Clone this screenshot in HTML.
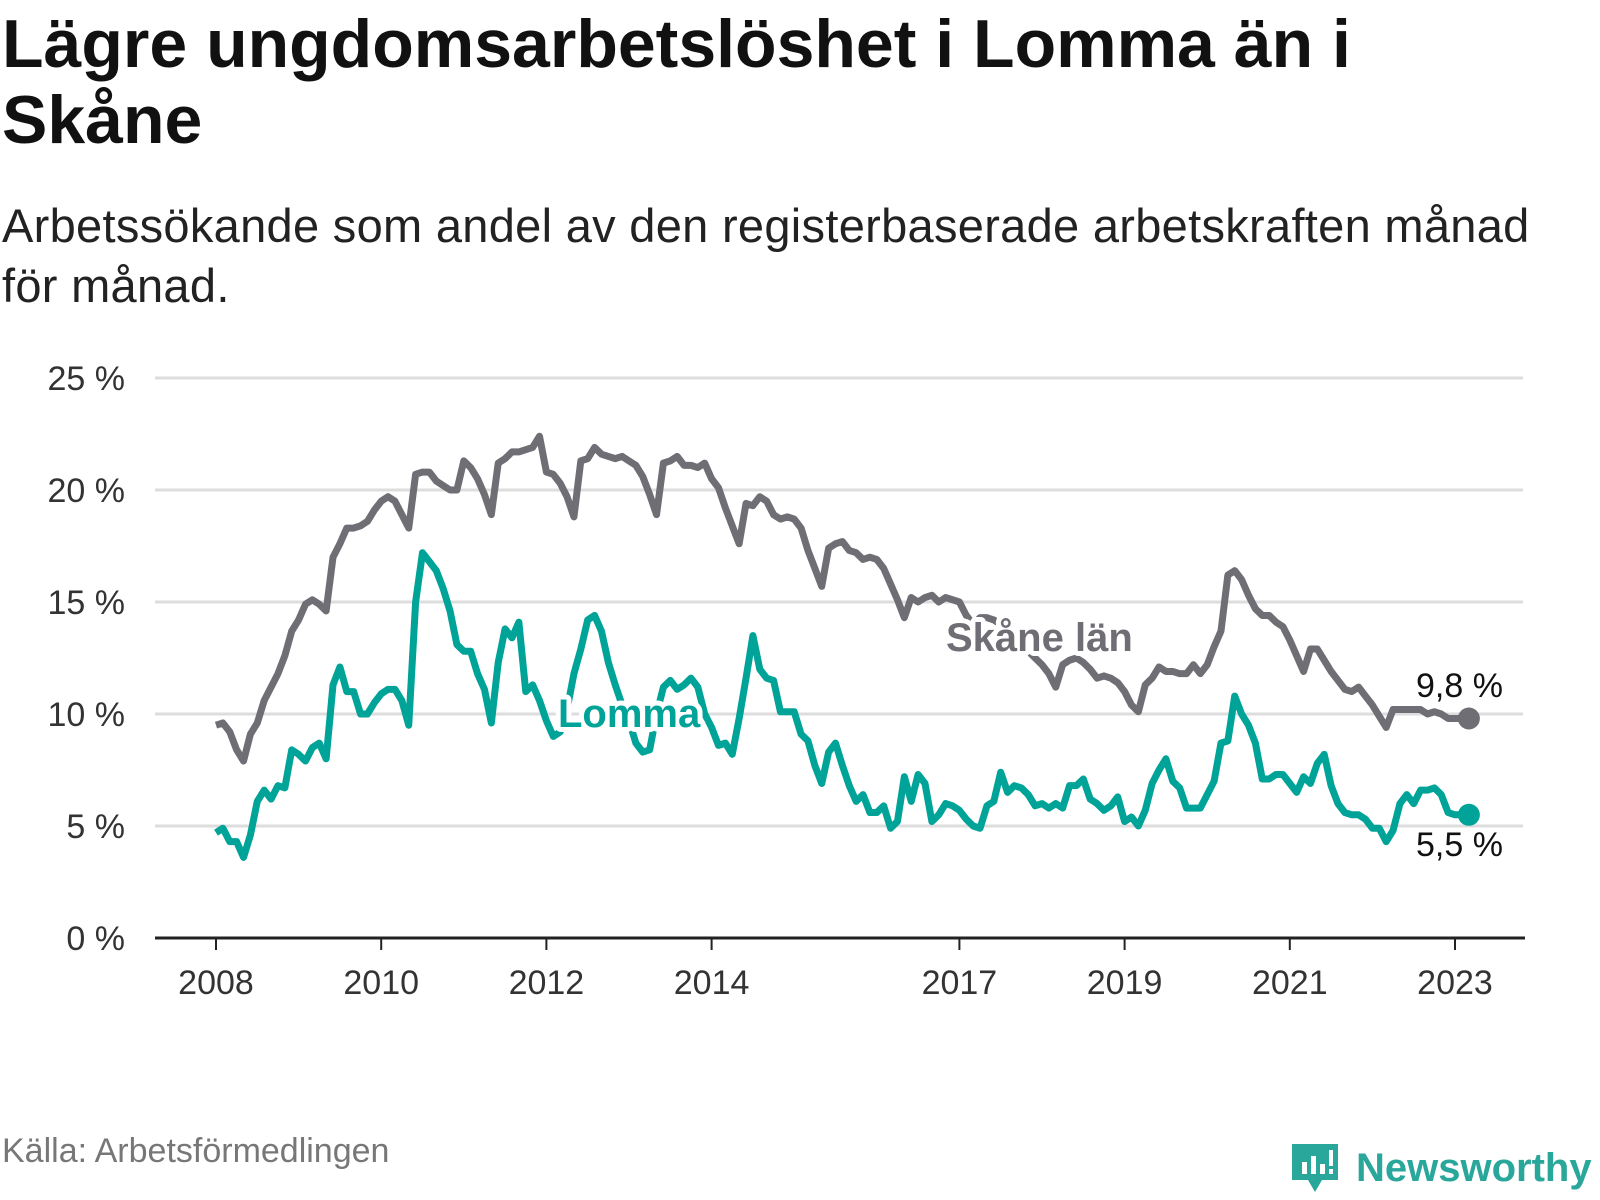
<!DOCTYPE html>
<html><head><meta charset="utf-8">
<style>
body{margin:0;background:#fff;width:1600px;height:1200px;overflow:hidden;font-family:"Liberation Sans",sans-serif}
h1{position:absolute;left:2px;top:6px;margin:0;font-size:68px;line-height:76px;font-weight:bold;color:#111;width:1590px;white-space:nowrap}
.sub{position:absolute;left:2px;top:196px;font-size:47px;line-height:60px;color:#222;width:1590px;white-space:nowrap;letter-spacing:0.3px}
.src{position:absolute;left:2px;top:1132px;font-size:34px;color:#777}
.logo{position:absolute;left:1290px;top:1140px;display:flex;align-items:center;color:#2aa79b;font-size:40px;font-weight:bold}
</style></head><body>
<h1>Lägre ungdomsarbetslöshet i Lomma än i<br>Skåne</h1>
<div class="sub">Arbetssökande som andel av den registerbaserade arbetskraften månad<br>för månad.</div>
<svg id="chart" width="1600" height="1200" style="position:absolute;left:0;top:0"></svg>
<div class="src">Källa: Arbetsförmedlingen</div>
<div class="logo">
<svg width="50" height="56"><path d="M2 4h46v36H32l-7 12-7-12H2z" fill="#2aa79b"/><rect x="12" y="22" width="5" height="12" fill="#fff"/><rect x="21" y="16" width="5" height="18" fill="#fff"/><rect x="30" y="24" width="5" height="10" fill="#fff"/><rect x="39" y="10" width="4" height="16" fill="#fff"/><rect x="39" y="29" width="4" height="5" fill="#fff"/></svg>
<span style="margin-left:16px">Newsworthy</span></div>
<script>
const skane=[9.5,9.6,9.2,8.4,7.9,9.1,9.6,10.6,11.2,11.8,12.6,13.7,
14.2,14.9,15.1,14.9,14.6,17.0,17.6,18.3,18.3,18.4,18.6,19.1,
19.5,19.7,19.5,18.9,18.3,20.7,20.8,20.8,20.4,20.2,20.0,20.0,
21.3,21.0,20.5,19.8,18.9,21.2,21.4,21.7,21.7,21.8,21.9,22.4,
20.8,20.7,20.3,19.7,18.8,21.3,21.4,21.9,21.6,21.5,21.4,21.5,
21.3,21.1,20.6,19.8,18.9,21.2,21.3,21.5,21.1,21.1,21.0,21.2,
20.5,20.1,19.2,18.4,17.6,19.4,19.3,19.7,19.5,18.9,18.7,18.8,
18.7,18.3,17.3,16.5,15.7,17.4,17.6,17.7,17.3,17.2,16.9,17.0,
16.9,16.5,15.8,15.1,14.3,15.2,15.0,15.2,15.3,15.0,15.2,15.1,
15.0,14.4,14.0,14.3,14.3,14.2,14.0,13.9,13.6,13.3,12.8,12.5,
12.2,11.8,11.2,12.2,12.4,12.5,12.3,12.0,11.6,11.7,11.6,11.4,
11.0,10.4,10.1,11.3,11.6,12.1,11.9,11.9,11.8,11.8,12.2,11.8,
12.2,13.0,13.7,16.2,16.4,16.0,15.3,14.7,14.4,14.4,14.1,13.9,
13.3,12.6,11.9,12.9,12.9,12.4,11.9,11.5,11.1,11.0,11.2,10.8,
10.4,9.9,9.4,10.2,10.2,10.2,10.2,10.2,10.0,10.1,10.0,9.8,
9.8,9.8];
const lomma=[4.7,4.9,4.3,4.3,3.6,4.6,6.1,6.6,6.2,6.8,6.7,8.4,
8.2,7.9,8.5,8.7,8.0,11.3,12.1,11.0,11.0,10.0,10.0,10.5,
10.9,11.1,11.1,10.6,9.5,15.0,17.2,16.8,16.4,15.6,14.6,13.1,
12.8,12.8,11.8,11.1,9.6,12.3,13.8,13.4,14.1,11.0,11.3,10.6,
9.7,9.0,9.2,10.2,11.8,12.9,14.2,14.4,13.7,12.3,11.3,10.4,
9.7,8.7,8.3,8.4,10.0,11.2,11.5,11.1,11.3,11.6,11.2,10.0,
9.4,8.6,8.7,8.2,9.8,11.6,13.5,12.0,11.6,11.5,10.1,10.1,
10.1,9.1,8.8,7.7,6.9,8.3,8.7,7.7,6.8,6.1,6.4,5.6,
5.6,5.9,4.9,5.2,7.2,6.1,7.3,6.9,5.2,5.5,6.0,5.9,
5.7,5.3,5.0,4.9,5.9,6.1,7.4,6.5,6.8,6.7,6.4,5.9,
6.0,5.8,6.0,5.8,6.8,6.8,7.1,6.2,6.0,5.7,5.9,6.3,
5.2,5.4,5.0,5.7,6.9,7.5,8.0,7.0,6.7,5.8,5.8,5.8,
6.4,7.0,8.7,8.8,10.8,10.0,9.5,8.7,7.1,7.1,7.3,7.3,
6.9,6.5,7.2,6.9,7.8,8.2,6.8,6.0,5.6,5.5,5.5,5.3,
4.9,4.9,4.3,4.8,6.0,6.4,6.0,6.6,6.6,6.7,6.4,5.6,
5.5,5.5];
const yTicks=[0,5,10,15,20,25];
const xTickYears=[2008,2010,2012,2014,2017,2019,2021,2023];
const startYear=2008;

const NS="http://www.w3.org/2000/svg";
const svg=document.getElementById('chart');
const x=m=>216+m*(1455-216)/180;
const xYear=yr=>x((yr-startYear)*12);
const y=v=>938-v*22.4;
function mk(t,a,p){const e=document.createElementNS(NS,t);for(const k in a)e.setAttribute(k,a[k]);(p||svg).appendChild(e);return e;}
yTicks.forEach(v=>{
  if(v>0){const g=mk('line',{x1:155,x2:1523,y1:y(v),y2:y(v),stroke:'#ddd','stroke-width':3});
  
  }
  const t=mk('text',{x:125,y:y(v)+12,'text-anchor':'end','font-size':34,fill:'#333'});
  t.textContent=v+' %';
  
  
});
const ax=mk('line',{x1:155,x2:1525,y1:938,y2:938,stroke:'#222','stroke-width':3});


xTickYears.forEach(yr=>{
  const tk=mk('line',{x1:xYear(yr),x2:xYear(yr),y1:938,y2:950,stroke:'#222','stroke-width':2});
  
  
  const t=mk('text',{x:xYear(yr),y:994,'text-anchor':'middle','font-size':34,fill:'#333'});
  t.textContent=yr;
  
  
});
function line(data,color,name){
  const p=mk('polyline',{points:data.map((v,i)=>x(i)+','+y(v)).join(' '),fill:'none',stroke:color,'stroke-width':7,'stroke-linejoin':'round'});
  
  
  const n=data.length-1;
  const c=mk('circle',{cx:x(n)+7,cy:y(data[n]),r:11,fill:color});
  
  
}
line(skane,'#6f6e75','skane-line');
line(lomma,'#00a398','lomma-line');
function lbl(tx,xx,yy,color,name,bold,halo,fs){
  const t=mk('text',{x:xx,y:yy,'font-size':fs,'font-weight':bold?'bold':'normal',fill:color,stroke:halo?'#fff':'none','stroke-width':halo?10:0,'paint-order':'stroke','stroke-linejoin':'round'});
  t.textContent=tx;
  
  
}
lbl('Skåne län',946,651,'#6f6e75','skane-label',true,true,40);
lbl('Lomma',558,727,'#00a398','lomma-label',true,true,40);
lbl('9,8 %',1416,697,'#111','skane-end-value',false,true,34);
lbl('5,5 %',1416,856,'#111','lomma-end-value',false,true,34);
</script>
</body></html>
